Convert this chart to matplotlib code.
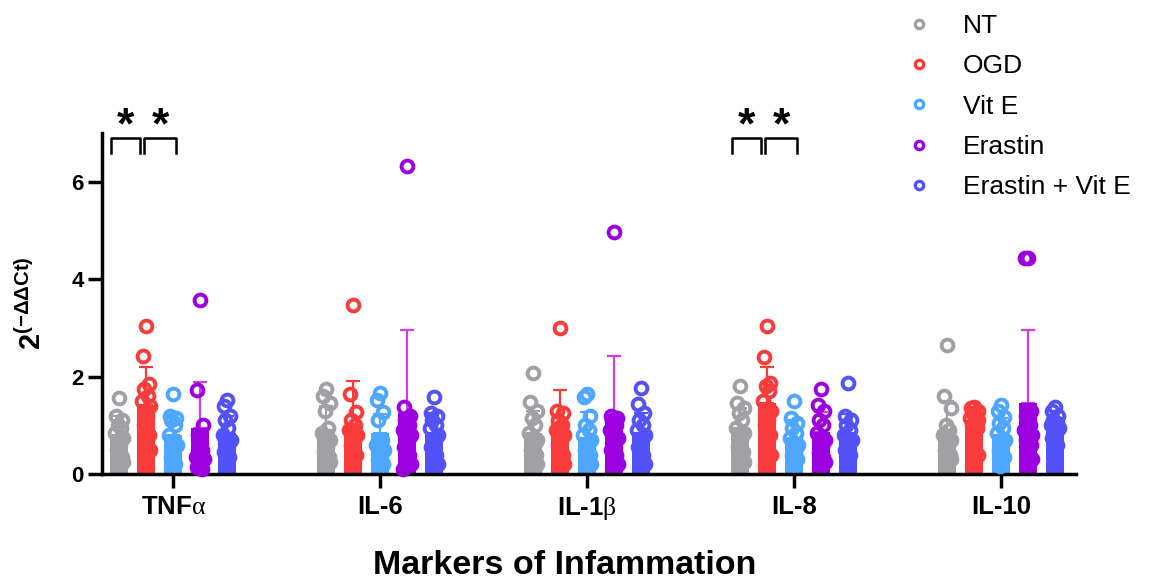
import numpy as np
import matplotlib
matplotlib.use("Agg")
import matplotlib.pyplot as plt
from matplotlib.lines import Line2D

plt.rcParams['font.family'] = ['Liberation Sans', 'DejaVu Sans']
plt.rcParams['mathtext.fontset'] = 'custom'
plt.rcParams['mathtext.rm'] = 'Liberation Serif'
plt.rcParams['mathtext.bf'] = 'Liberation Sans:bold'
plt.rcParams['mathtext.sf'] = 'Liberation Sans'

# categories and groups
markers = ["TNF$\\mathrm{\\alpha}$", "IL-6", "IL-1$\\mathrm{\\beta}$", "IL-8", "IL-10"]
groups = ["NT", "OGD", "Vit E", "Erastin", "Erastin + Vit E"]
colors = ["#A0A0A5", "#F83C3C", "#4DA6FF", "#9C00E0", "#5252F8"]
err_colors = ["#A0A0A5", "#F83C3C", "#4DA6FF", "#D23CE6", "#5252F8"]

# bar means (rows = groups, cols = markers)
means = [
    [0.80, 0.90, 0.85, 0.95, 0.90],   # NT
    [1.42, 1.00, 1.05, 1.46, 1.05],   # OGD
    [0.80, 0.84, 0.75, 0.75, 0.80],   # Vit E
    [0.95, 1.25, 1.20, 0.87, 1.46],   # Erastin
    [0.85, 0.85, 0.85, 0.84, 1.05],   # Erastin + Vit E
]
# upper error bar (SD)
sds = [
    [0.40, 0.50, 0.45, 0.40, 0.60],
    [0.78, 0.92, 0.68, 0.74, 0.15],
    [0.35, 0.40, 0.53, 0.35, 0.35],
    [0.95, 1.70, 1.23, 0.40, 1.50],
    [0.35, 0.40, 0.40, 0.40, 0.25],
]

# individual replicates
nt_pts = [
    [1.57, 1.2, 1.1, 1.0, 0.95, 0.85, 0.75, 0.6, 0.5, 0.35, 0.3, 0.25],
    [1.75, 1.6, 1.45, 1.3, 0.95, 0.85, 0.7, 0.55, 0.45, 0.35, 0.3, 0.25],
    [2.08, 1.48, 1.3, 1.15, 1.0, 0.85, 0.7, 0.6, 0.5, 0.4, 0.3, 0.2],
    [1.8, 1.45, 1.35, 1.25, 1.1, 0.95, 0.85, 0.7, 0.55, 0.45, 0.35, 0.25],
    [2.65, 1.6, 1.35, 1.0, 0.9, 0.8, 0.7, 0.6, 0.5, 0.4, 0.3, 0.3],
]
ogd_pts = [
    [3.03, 2.42, 1.85, 1.75, 1.6, 1.5, 1.4, 1.2, 1.0, 0.8, 0.6, 0.5],
    [3.48, 1.65, 1.28, 1.1, 1.0, 0.9, 0.8, 0.7, 0.6, 0.4, 0.3],
    [3.0, 1.3, 1.25, 1.1, 1.0, 0.9, 0.8, 0.75, 0.6, 0.4, 0.3, 0.2],
    [3.03, 2.41, 1.87, 1.8, 1.7, 1.5, 1.3, 1.1, 1.0, 0.8, 0.6, 0.4],
    [1.38, 1.35, 1.3, 1.25, 1.2, 1.15, 1.1, 1.05, 1.0, 0.95, 0.9, 0.4],
]
vite_pts = [
    [1.65, 1.2, 1.15, 1.1, 1.0, 0.8, 0.6, 0.5, 0.35, 0.2],
    [1.67, 1.53, 1.28, 1.1, 0.7, 0.6, 0.5, 0.46, 0.3, 0.2],
    [1.65, 1.58, 1.2, 1.0, 0.9, 0.8, 0.7, 0.6, 0.5, 0.4, 0.3, 0.2],
    [1.5, 1.15, 1.05, 0.95, 0.85, 0.75, 0.6, 0.5, 0.4, 0.3, 0.2],
    [1.42, 1.3, 1.18, 1.05, 0.95, 0.85, 0.7, 0.6, 0.5, 0.35, 0.17],
]
era_pts = [
    [3.58, 1.72, 1.0, 0.8, 0.5, 0.35, 0.3, 0.2, 0.15, 0.1],
    [6.33, 1.38, 1.2, 1.1, 1.0, 0.9, 0.8, 0.7, 0.55, 0.4, 0.3, 0.2, 0.1],
    [4.97, 1.2, 1.15, 1.1, 1.0, 0.9, 0.75, 0.65, 0.5, 0.4, 0.3, 0.2],
    [1.75, 1.42, 1.3, 1.1, 1.0, 0.85, 0.7, 0.55, 0.45, 0.35, 0.3, 0.25],
    [4.43, 4.43, 1.3, 1.2, 1.0, 0.9, 0.8, 0.8, 0.7, 0.6, 0.5, 0.3],
]
erav_pts = [
    [1.52, 1.4, 1.2, 1.1, 0.95, 0.8, 0.7, 0.6, 0.45, 0.35, 0.2],
    [1.59, 1.25, 1.2, 1.1, 1.0, 0.95, 0.8, 0.7, 0.55, 0.4, 0.3, 0.2],
    [1.77, 1.44, 1.25, 1.1, 1.0, 0.9, 0.8, 0.7, 0.55, 0.4, 0.3, 0.2],
    [1.87, 1.2, 1.1, 1.0, 0.9, 0.8, 0.7, 0.6, 0.5, 0.4, 0.3],
    [1.38, 1.3, 1.2, 1.1, 1.05, 1.0, 0.95, 0.85, 0.75, 0.6],
]
points = [nt_pts, ogd_pts, vite_pts, era_pts, erav_pts]

# significance brackets: (marker index, group a, group b)
sig_pairs = [(0, 0, 1), (0, 1, 2), (3, 0, 1), (3, 1, 2)]

fig = plt.figure(figsize=(11.55, 5.86), dpi=100)
ax = fig.add_axes([0.0883, 0.191, 0.843, 0.582])

x = np.arange(len(markers))
offsets = np.array([-0.26, -0.13, 0.0, 0.13, 0.26])
bw = 0.088
jit = np.array([0.0, -0.016, 0.016, -0.008, 0.008, -0.02, 0.02, 0.004, -0.012, 0.012, -0.004, 0.018, -0.018])

for g in range(len(groups)):
    xs = x + offsets[g]
    ax.bar(xs, means[g], width=bw, color=colors[g], zorder=2)
    ax.errorbar(xs, means[g], yerr=[np.zeros(len(x)), sds[g]], fmt="none",
                ecolor=err_colors[g], elinewidth=1.6, capsize=5, capthick=1.6, zorder=1)
    for m in range(len(markers)):
        pts = np.array(points[g][m])
        px = xs[m] + jit[:len(pts)]
        ax.plot(px, pts, "o", ms=8.5, mfc="none", mec=colors[g], mew=2.8, zorder=3,
                clip_on=False)

ax.set_xlim(-0.343, 4.36)
ax.set_ylim(0, 7)
ax.set_yticks([0, 2, 4, 6])
ax.set_xticks(x)
ax.set_xticklabels(markers, fontsize=18.5, fontweight="bold")
for lab in ax.get_yticklabels():
    lab.set_fontsize(16)
    lab.set_fontweight("bold")
ax.tick_params(axis="both", width=2.5, length=10, pad=3)
ax.tick_params(axis="x", pad=5)
for s in ["top", "right"]:
    ax.spines[s].set_visible(False)
for s in ["left", "bottom"]:
    ax.spines[s].set_linewidth(2.5)

ax.set_ylabel(r"$\mathbf{2^{(-\Delta\Delta Ct)}}$", fontsize=21, labelpad=18)
fig.text(565 / 1155, 1 - 565 / 586, "Markers of Infammation", fontsize=24.5,
         fontweight="bold", ha="center", va="center")

# brackets and asterisks
bx = {(0, 1): (-0.30, -0.16), (1, 2): (-0.14, 0.015)}
for m, a, b in sig_pairs:
    x0, x1 = bx[(a, b)]
    x0 += x[m]
    x1 += x[m]
    ax.plot([x0, x0, x1, x1], [6.58, 6.89, 6.89, 6.58], color="black", lw=1.8,
            clip_on=False, zorder=4)
    ax.text((x0 + x1) / 2, 7.12, "*", fontsize=32, fontweight="bold",
            ha="center", va="center", clip_on=False)

handles = [Line2D([], [], marker="o", ls="none", ms=6, mfc="none", mec=c, mew=2.4)
           for c in colors]
fig.legend(handles, groups, loc="upper left", bbox_to_anchor=(0.758, 1.017),
           frameon=False, fontsize=19, labelspacing=0.62, handletextpad=0.9,
           handlelength=1.5)

fig.savefig("out.png", dpi=100)
